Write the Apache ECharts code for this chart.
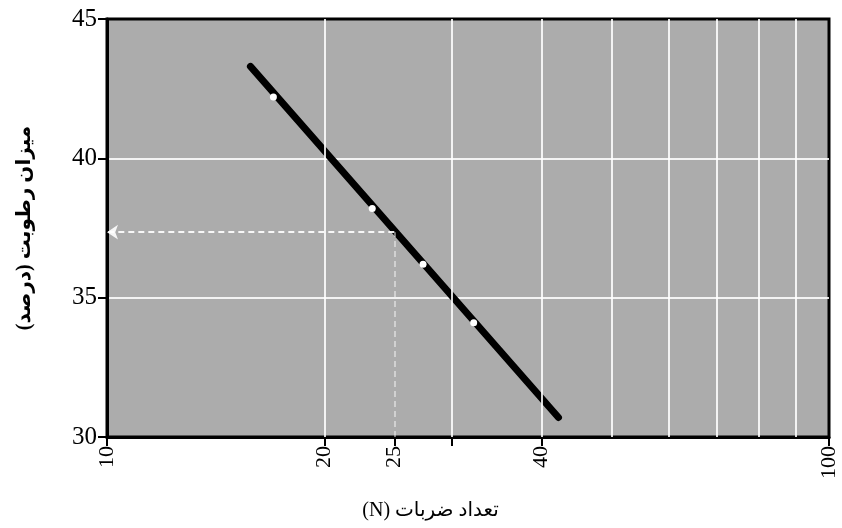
<!DOCTYPE html>
<html>
<head>
<meta charset="utf-8">
<script src="https://cdn.jsdelivr.net/npm/echarts@6/dist/echarts.min.js"></script>
<style>
  html, body { margin: 0; padding: 0; background: #ffffff; }
  #chart { width: 842px; height: 528px; }
</style>
</head>
<body>
<div id="chart"></div>
<script>
// Flow-curve test: moisture content against number of blows (log scale)
const blowCounts = [17.0, 23.3, 27.4, 32.2];
const moistureContent = [42.2, 38.2, 36.2, 34.1];

// Ends of the fitted flow line
const flowLineBlows = [15.8, 42.2];
const flowLineMoisture = [43.3, 30.7];

// Reading at 25 blows
const referenceBlows = 25;
const referenceMoisture = 37.35;

// Axis ticks, labels and grid
const xTickValues = [10, 20, 25, 30, 40, 100];
const xLabelValues = [10, 20, 25, 40, 100];
const xGridValues = [20, 30, 40, 50, 60, 70, 80, 90];
const yMin = 30, yMax = 45, yStep = 5;

const serif = "Liberation Serif";
const mixed = "Liberation Serif, DejaVu Sans";
const rtl = s => '\u202B' + s + '\u202C';

const chart = echarts.init(document.getElementById('chart'), null, { renderer: 'canvas' });

const flowLine = flowLineBlows.map((n, i) => [n, flowLineMoisture[i]]);
const points = blowCounts.map((n, i) => [n, moistureContent[i]]);

chart.setOption({
  animation: false,
  backgroundColor: '#ffffff',
  grid: {
    left: 107, right: 13, top: 19, bottom: 91,
    show: true,
    backgroundColor: '#acacac',
    borderColor: '#000000',
    borderWidth: 3
  },
  xAxis: {
    type: 'log',
    logBase: 10,
    min: 10,
    max: 100,
    name: rtl('تعداد ضربات (N)'),
    nameLocation: 'middle',
    nameGap: 64,
    nameTextStyle: { fontFamily: mixed, fontSize: 20, color: '#000', padding: [0, 75, 0, 0] },
    axisLine: { show: true, onZero: false, lineStyle: { color: '#000', width: 3 } },
    axisTick: { show: true, inside: false, length: 9, lineStyle: { color: '#000', width: 2 }, customValues: xTickValues },
    axisLabel: {
      customValues: xLabelValues,
      rotate: 90,
      margin: 9,
      fontFamily: serif,
      fontSize: 22,
      color: '#000'
    },
    splitLine: { show: false },
    minorTick: { show: false },
    minorSplitLine: { show: false }
  },
  yAxis: {
    type: 'value',
    min: yMin,
    max: yMax,
    interval: yStep,
    name: rtl('میزان رطوبت (درصد)'),
    nameLocation: 'middle',
    nameRotate: 90,
    nameGap: 72,
    nameTextStyle: { fontFamily: mixed, fontSize: 20, fontWeight: 'bold', color: '#000' },
    axisLine: { show: true, onZero: false, lineStyle: { color: '#000', width: 3 } },
    axisTick: { show: true, inside: false, length: 9, lineStyle: { color: '#000', width: 2 } },
    axisLabel: { margin: 10, fontFamily: serif, fontSize: 25, color: '#000' },
    splitLine: {
      show: true,
      showMinLine: false,
      showMaxLine: false,
      lineStyle: { color: 'rgba(255,255,255,0.85)', width: 2 }
    }
  },
  series: [
    {
      // vertical grid lines of the log scale
      type: 'line',
      data: [],
      z: 1,
      silent: true,
      markLine: {
        silent: true,
        symbol: ['none', 'none'],
        label: { show: false },
        lineStyle: { color: 'rgba(255,255,255,0.85)', width: 2, type: 'solid' },
        data: xGridValues.map(v => ({ xAxis: v }))
      }
    },
    {
      // dashed reading at 25 blows
      type: 'line',
      data: [],
      z: 2,
      silent: true,
      markLine: {
        silent: true,
        symbol: ['none', 'none'],
        label: { show: false },
        lineStyle: { color: '#ffffff', width: 2, type: [6, 4] },
        data: [
          [
            { coord: [referenceBlows, yMin], symbol: 'none', lineStyle: { color: 'rgba(255,255,255,0.45)' } },
            { coord: [referenceBlows, referenceMoisture], symbol: 'none' }
          ],
          [
            { coord: [referenceBlows, referenceMoisture], symbol: 'none', lineStyle: { color: 'rgba(255,255,255,0.9)' } },
            { coord: [10, referenceMoisture], symbol: 'arrow', symbolSize: 11 }
          ]
        ]
      }
    },
    {
      // fitted flow line
      type: 'line',
      data: flowLine,
      z: 3,
      showSymbol: false,
      silent: true,
      lineStyle: { color: '#000000', width: 7, cap: 'round' }
    },
    {
      // measured points
      type: 'scatter',
      data: points,
      z: 4,
      symbol: 'circle',
      symbolSize: 7,
      itemStyle: { color: '#ffffff', opacity: 1 }
    }
  ]
});
</script>
</body>
</html>
